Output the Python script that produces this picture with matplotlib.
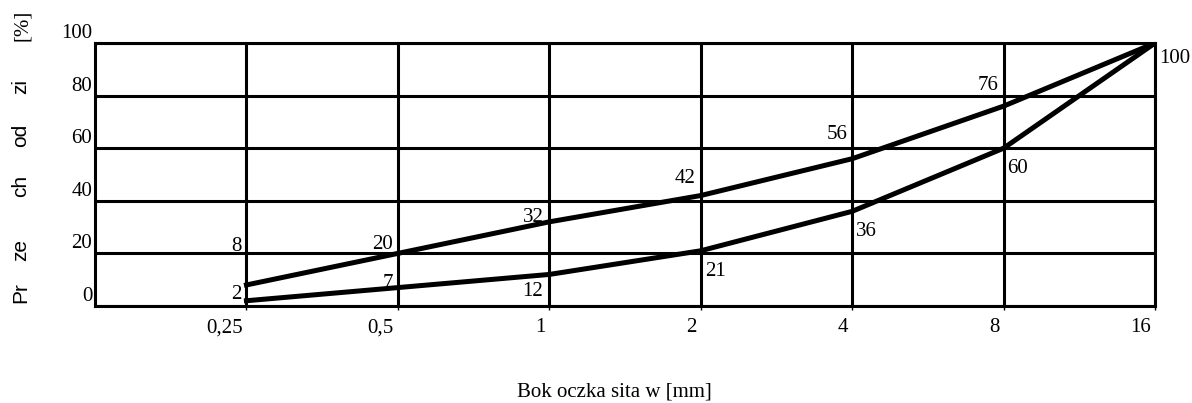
import matplotlib.pyplot as plt
import matplotlib.transforms as mtransforms

# data
sieve = [0.25, 0.5, 1, 2, 4, 8, 16]
sieve_labels = ['0,25', '0,5', '1', '2', '4', '8', '16']
upper = [8, 20, 32, 42, 56, 76, 100]
lower = [2, 7, 12, 21, 36, 60, 100]
y_ticks = [0, 20, 40, 60, 80, 100]

serif = 'Liberation Serif'
sans = 'Liberation Sans'
fs = 15

fig = plt.figure(figsize=(11.92, 4.03), dpi=100)
ax = fig.add_axes([0.0797, 0.2407, 0.8893, 0.6526])

ax.set_xscale('log', base=2)
ax.set_xlim(0.125, 16)
ax.set_ylim(0, 100)

ax.plot(sieve, upper, color='black', lw=3.6, solid_joinstyle='round', zorder=3)
ax.plot(sieve, lower, color='black', lw=3.6, solid_joinstyle='round', zorder=3)

# grid
for x in sieve:
    ax.axvline(x, color='black', lw=2.2, zorder=2)
for y in y_ticks:
    ax.axhline(y, color='black', lw=2.2, zorder=2)
for s in ax.spines.values():
    s.set_linewidth(2.2)

ax.set_xticks(sieve)
ax.set_xticklabels(sieve_labels, fontfamily=serif, fontsize=fs)
ax.xaxis.set_minor_locator(plt.NullLocator())
ax.tick_params(axis='x', length=3, width=1, pad=6)
shift = mtransforms.ScaledTranslation(-4 / 100, 0, fig.dpi_scale_trans)
for lab in ax.get_xticklabels():
    lab.set_ha('right')
    lab.set_transform(lab.get_transform() + shift)

ax.set_yticks(y_ticks)
ax.set_yticklabels([str(v) for v in y_ticks], fontfamily=serif, fontsize=fs, va='bottom')
ax.tick_params(axis='y', length=0, pad=2)

fig.text(614 / 1192, 11 / 403, 'Bok oczka sita w [mm]', ha='center', va='center',
         fontfamily=serif, fontsize=fs)

# point labels, offsets in pixels
up_off = [(-5, 38), (-5, 9), (-5, 4), (-5, 17), (-5, 24), (-5, 21), (4, -15)]
lo_off = [(-5, 6), (-5, 4), (-6, -17), (4, -21), (4, -20), (4, -20)]
pts = [(x, v, o) for x, v, o in zip(sieve, upper, up_off)]
pts += [(x, v, o) for x, v, o in zip(sieve, lower, lo_off)]
for x, v, (dx, dy) in pts:
    ax.annotate(str(v), (x, v), xytext=(dx * 0.72, dy * 0.72), textcoords='offset points',
                ha='left' if dx > 0 else 'right', va='center',
                fontfamily=serif, fontsize=fs, annotation_clip=False)

# rotated y label, spaced the way the original is
for word, yc in [('Pr', 293), ('ze', 250), ('ch', 186), ('od', 135), ('zi', 86)]:
    fig.text(21 / 1192, 1 - yc / 403, word, rotation=90, ha='center', va='center',
             fontfamily=sans, fontsize=fs)
fig.text(22 / 1192, 1 - 25 / 403, '[%]', rotation=90, ha='center', va='center',
         fontfamily=serif, fontsize=fs)

fig.savefig('out.png', dpi=100)
